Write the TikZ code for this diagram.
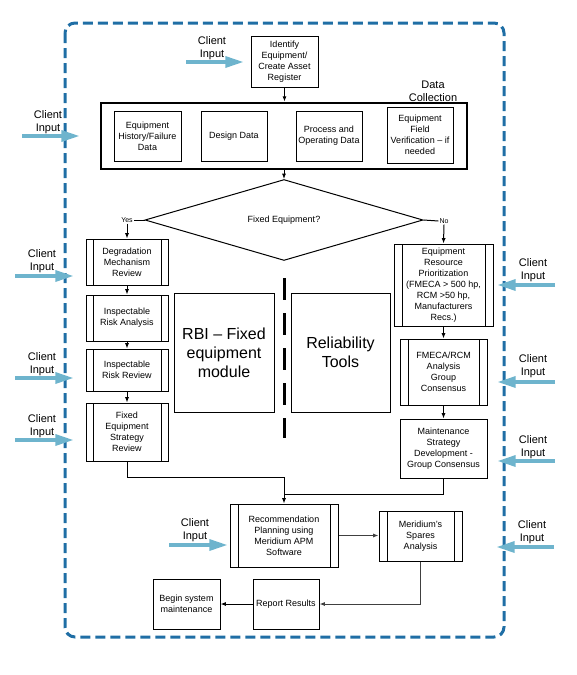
\documentclass[tikz,border=0pt]{standalone}
\usepackage{fontspec}
\setmainfont{Liberation Sans}
\usetikzlibrary{shapes.geometric,arrows.meta}

\definecolor{frameblue}{RGB}{31,110,165}
\definecolor{inputblue}{RGB}{110,180,205}

\tikzset{every picture/.style={line width=0.75pt}}
\tikzset{
  box/.style={draw, align=center, inner sep=1pt, font=\fontsize{6.75}{8.25}\selectfont},
  subproc/.style={box, path picture={
      \draw ([xshift=#1]path picture bounding box.north west) -- ([xshift=#1]path picture bounding box.south west);
      \draw ([xshift=-#1]path picture bounding box.north east) -- ([xshift=-#1]path picture bounding box.south east);}},
  subproc/.default=6pt,
  bigbox/.style={draw, align=center, font=\fontsize{12}{14.25}\selectfont},
  clientlbl/.style={align=center, inner sep=0pt, font=\fontsize{8.25}{9.75}\selectfont},
  clientarr/.style={inputblue, line width=3pt, -{Triangle[length=14pt,width=8pt]}},
  flow/.style={-{Latex[length=4pt,width=3pt]}},
  yn/.style={fill=white, inner sep=0.5pt, font=\fontsize{5.25}{6}\selectfont},
}

\begin{document}
\begin{tikzpicture}[x=0.75pt,y=0.75pt,yscale=-1,xscale=1]
\useasboundingbox (0,0) rectangle (577,675);

%Rounded Rect: outer frame
\draw [frameblue, line width=2.25pt, dash pattern=on 7.5pt off 3.75pt, rounded corners=7.5pt] (65,23) rectangle (504,637);

%Flowchart: Process
\node [box, minimum width=50.25pt, minimum height=38.25pt] (ident) at (284.5,61.5) {Identify\\Equipment/\\Create Asset\\Register};
%Data collection
\node [draw, line width=2pt, minimum width=274.5pt, minimum height=49.5pt] (datacol) at (284,136) {};
\node [clientlbl] (datalbl) at (433,91) {Data\\Collection};
\node [box, minimum width=50.25pt, minimum height=37.5pt] (hist) at (147.5,136) {Equipment\\History/Failure\\Data};
\node [box, minimum width=49.5pt, minimum height=37.5pt] (design) at (234,136) {Design Data};
\node [box, minimum width=49.5pt, minimum height=37.5pt] (procdata) at (329,136) {Process and\\Operating Data};
\node [box, minimum width=49.5pt, minimum height=42pt] (fieldver) at (420,135) {Equipment\\Field\\Verification -- if\\needed};

%Flowchart: Decision
\node [diamond, draw, minimum width=208.5pt, minimum height=51pt, inner sep=0pt, font=\fontsize{6.75}{8.25}\selectfont] (fixed) at (284,220) {Fixed Equipment?};
\node [yn] (yes) at (127,220) {Yes};
\node [yn] (no) at (444,221) {No};

%Fixed equipment column
\node [subproc=5.25pt, minimum width=61.5pt, minimum height=34.5pt] (degr) at (127,262) {Degradation\\Mechanism\\Review};
\node [subproc=5.25pt, minimum width=61.5pt, minimum height=34.5pt] (inspa) at (127,318) {Inspectable\\Risk Analysis};
\node [subproc=5.25pt, minimum width=61.5pt, minimum height=31.5pt] (inspr) at (127,370) {Inspectable\\Risk Review};
\node [subproc=5.25pt, minimum width=61.5pt, minimum height=43.5pt] (fixstr) at (127,432) {Fixed\\Equipment\\Strategy\\Review};

%Module boxes
\node [bigbox, minimum width=75pt, minimum height=89.25pt] (rbi) at (224,352.5) {RBI -- Fixed\\equipment\\module};
\node [bigbox, minimum width=74.25pt, minimum height=89.25pt] (rel) at (340.5,352.5) {Reliability\\Tools};
\draw [line width=2.25pt, dash pattern=on 16.5pt off 9.75pt] (284,278) -- (284,438);

%Reliability column
\node [subproc, minimum width=74.25pt, minimum height=61.5pt] (eqres) at (443.5,285) {Equipment\\Resource\\Prioritization\\(FMECA > 500 hp,\\RCM >50 hp,\\Manufacturers\\Recs.)};
\node [subproc, minimum width=65.25pt, minimum height=49.5pt] (fmeca) at (443.5,372) {FMECA/RCM\\Analysis\\Group\\Consensus};
\node [box, minimum width=65.25pt, minimum height=44.25pt] (maint) at (443.5,448.5) {Maintenance\\Strategy\\Development -\\Group Consensus};

%Bottom row
\node [subproc, minimum width=81pt, minimum height=47.25pt] (recom) at (284,535.5) {Recommendation\\Planning using\\Meridium APM\\Software};
\node [subproc, minimum width=62.25pt, minimum height=37.5pt] (spares) at (420.5,536) {Meridium's\\Spares\\Analysis};
\node [box, minimum width=49.5pt, minimum height=37.5pt] (report) at (286,604) {Report Results};
\node [box, minimum width=50.25pt, minimum height=37.5pt] (begin) at (186.5,604) {Begin system\\maintenance};

%Straight Lines
\draw [flow] (ident.south) -- (ident.south |- datacol.north);
\draw [flow] (datacol.south) -- (fixed.north);
\draw (fixed.west) -- (yes.east);
\draw [flow] (yes.south) -- (degr.north);
\draw (fixed.east) -- (no.west);
\draw [flow] (no.south) -- (eqres.north);
\draw [flow] (degr.south) -- (inspa.north);
\draw [flow] (inspa.south) -- (inspr.north);
\draw [flow] (inspr.south) -- (fixstr.north);
\draw [flow] (eqres.south) -- (fmeca.north);
\draw [flow] (fmeca.south) -- (maint.north);
\coordinate (join1) at (284,477);
\coordinate (join2) at (284,494);
\draw [flow] (fixstr.south) |- (join1) -- (recom.north);
\draw (maint.south) |- (join2);
\draw [flow, black!75] (recom.east) -- (recom.east -| spares.west);
\draw [flow, black!75] (spares.south) |- (report.east);
\draw [flow] (report.west) -- (begin.east);

%Client inputs
\node [clientlbl] (ci1) at (212,48) {Client\\Input};
\coordinate (ci1a) at (186,62); \coordinate (ci1b) at (244,62);
\draw [clientarr] (ci1a) -- (ci1b);
\node [clientlbl] (ci2) at (48,122) {Client\\Input};
\coordinate (ci2a) at (22,136); \coordinate (ci2b) at (80,136);
\draw [clientarr] (ci2a) -- (ci2b);
\node [clientlbl] (ci3) at (42,261) {Client\\Input};
\coordinate (ci3a) at (15,276); \coordinate (ci3b) at (74,276);
\draw [clientarr] (ci3a) -- (ci3b);
\node [clientlbl] (ci4) at (42,364) {Client\\Input};
\coordinate (ci4a) at (15,378); \coordinate (ci4b) at (74,378);
\draw [clientarr] (ci4a) -- (ci4b);
\node [clientlbl] (ci5) at (42,426) {Client\\Input};
\coordinate (ci5a) at (15,440); \coordinate (ci5b) at (74,440);
\draw [clientarr] (ci5a) -- (ci5b);
\node [clientlbl] (ci6) at (533,270) {Client\\Input};
\coordinate (ci6a) at (555,285); \coordinate (ci6b) at (497,285);
\draw [clientarr] (ci6a) -- (ci6b);
\node [clientlbl] (ci7) at (533,366) {Client\\Input};
\coordinate (ci7a) at (555,382); \coordinate (ci7b) at (497,382);
\draw [clientarr] (ci7a) -- (ci7b);
\node [clientlbl] (ci8) at (533,447) {Client\\Input};
\coordinate (ci8a) at (555,461); \coordinate (ci8b) at (497,461);
\draw [clientarr] (ci8a) -- (ci8b);
\node [clientlbl] (ci9) at (195,530) {Client\\Input};
\coordinate (ci9a) at (169,545); \coordinate (ci9b) at (228,545);
\draw [clientarr] (ci9a) -- (ci9b);
\node [clientlbl] (ci10) at (532,532) {Client\\Input};
\coordinate (ci10a) at (554,547); \coordinate (ci10b) at (496,547);
\draw [clientarr] (ci10a) -- (ci10b);

\end{tikzpicture}
\end{document}
